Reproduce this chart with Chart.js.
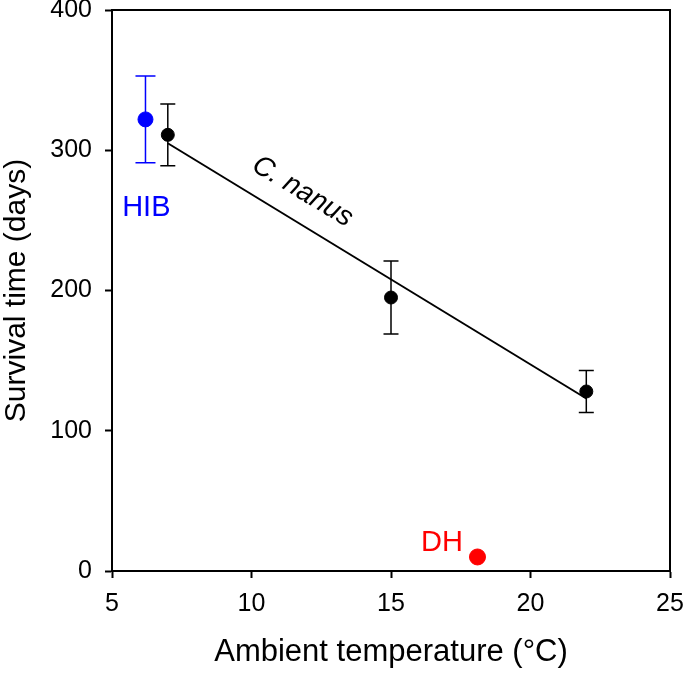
<!DOCTYPE html>
<html>
<head>
<meta charset="utf-8">
<script src="https://cdn.jsdelivr.net/npm/chart.js@4.4.1/dist/chart.umd.min.js"></script>
<style>
    html, body { margin: 0; padding: 0; background: #fff; }
    #wrap { width: 685px; height: 676px; position: relative; }
</style>
</head>
<body>
<div id="wrap"><canvas id="myChart"></canvas></div>
<script>
// C. nanus survival time at three ambient temperatures (mean +/- error)
const nanusTemp = [7, 15, 22];
const nanusDays = [311, 195, 128];
const nanusErrUp = [22, 26, 15];
const nanusErrDown = [22, 26, 15];

// hibernation (HIB) and daily heterothermy (DH)
const hibTemp = [6.2];
const hibDays = [322];
const hibErr = [31];
const dhTemp = [18.1];
const dhDays = [10];

// end points of the fitted line for C. nanus
const fitTemp = [7, 22];
const fitDays = [305, 123];

// axis ticks
const xTicks = [5, 10, 15, 20, 25];
const yTicks = [0, 100, 200, 300, 400];

const FONT = '"Liberation Sans", Arial, sans-serif';

const toPoints = (xs, ys) => xs.map((v, i) => ({x: v, y: ys[i]}));

// text labels placed in data units
const notes = [
    {text: 'HIB', x: 6.23, y: 259, color: '#0000ff', font: '29px ' + FONT, angle: 0},
    {text: 'DH', x: 16.83, y: 20, color: '#ff0000', font: '29px ' + FONT, angle: 0},
    {text: 'C. nanus', x: 11.83, y: 270.5, color: '#000000', font: 'italic 28px ' + FONT, angle: 31}
];

// drop the extra room chart.js keeps for overhanging tick labels
function fixSize(s, w, h) {
    if (w) s.width = w;
    if (h) s.height = h;
    s.paddingTop = 0;
    s.paddingBottom = 0;
    s.paddingLeft = 0;
    s.paddingRight = 0;
}

// vertical error bars with caps, drawn under the points
const errorBars = {
    id: 'errorBars',
    beforeDatasetsDraw(chart) {
        const {ctx, scales: {x, y}} = chart;
        ctx.save();
        chart.data.datasets.forEach(ds => {
            if (!ds.errUp) return;
            ctx.strokeStyle = ds.errColor;
            ctx.lineWidth = 1.5;
            ds.data.forEach((p, i) => {
                const px = x.getPixelForValue(p.x);
                const top = y.getPixelForValue(p.y + ds.errUp[i]);
                const bot = y.getPixelForValue(p.y - ds.errDown[i]);
                ctx.beginPath();
                ctx.moveTo(px, top);
                ctx.lineTo(px, bot);
                ctx.moveTo(px - ds.capHalf, top);
                ctx.lineTo(px + ds.capHalf, top);
                ctx.moveTo(px - ds.capHalf, bot);
                ctx.lineTo(px + ds.capHalf, bot);
                ctx.stroke();
            });
        });
        ctx.restore();
    }
};

// closed frame round the plot and the text labels
const frameAndNotes = {
    id: 'frameAndNotes',
    afterDatasetsDraw(chart) {
        const {ctx, chartArea: a, scales: {x, y}} = chart;
        ctx.save();
        ctx.strokeStyle = '#000';
        ctx.lineWidth = 2;
        ctx.strokeRect(a.left, a.top, a.right - a.left, a.bottom - a.top);

        notes.forEach(n => {
            ctx.save();
            ctx.translate(x.getPixelForValue(n.x), y.getPixelForValue(n.y));
            ctx.rotate(n.angle * Math.PI / 180);
            ctx.font = n.font;
            ctx.fillStyle = n.color;
            ctx.textAlign = 'center';
            ctx.textBaseline = 'middle';
            ctx.fillText(n.text, 0, 0);
            ctx.restore();
        });
        ctx.restore();
    }
};

new Chart(document.getElementById('myChart'), {
    type: 'scatter',
    data: {
        datasets: [{
            label: 'DH',
            data: toPoints(dhTemp, dhDays),
            backgroundColor: '#ff0000',
            borderColor: '#ff0000',
            pointRadius: 8,
            order: 0
        }, {
            label: 'HIB',
            data: toPoints(hibTemp, hibDays),
            backgroundColor: '#0000ff',
            borderColor: '#0000ff',
            pointRadius: 7.5,
            errUp: hibErr,
            errDown: hibErr,
            errColor: '#0000ff',
            capHalf: 10,
            order: 1
        }, {
            label: 'C. nanus',
            data: toPoints(nanusTemp, nanusDays),
            backgroundColor: '#000000',
            borderColor: '#000000',
            pointRadius: 6.5,
            errUp: nanusErrUp,
            errDown: nanusErrDown,
            errColor: '#000000',
            capHalf: 7.5,
            order: 2
        }, {
            type: 'line',
            label: 'fit',
            data: toPoints(fitTemp, fitDays),
            borderColor: '#000000',
            borderWidth: 2,
            pointRadius: 0,
            fill: false,
            order: 3
        }]
    },
    options: {
        responsive: true,
        maintainAspectRatio: false,
        animation: false,
        layout: {padding: {top: 10, right: 15, left: 0, bottom: 0}},
        plugins: {
            legend: {display: false},
            tooltip: {enabled: false}
        },
        scales: {
            x: {
                type: 'linear',
                min: 5,
                max: 25,
                afterBuildTicks: s => { s.ticks = xTicks.map(v => ({value: v})); },
                afterFit: s => fixSize(s, 0, 105),
                grid: {drawOnChartArea: false, tickLength: 7, tickWidth: 2, tickColor: '#000'},
                border: {color: '#000', width: 2},
                ticks: {color: '#000', font: {family: FONT, size: 25}, padding: 11, maxRotation: 0},
                title: {
                    display: true,
                    text: 'Ambient temperature (°C)',
                    color: '#000',
                    font: {family: FONT, size: 31},
                    padding: 5
                }
            },
            y: {
                min: 0,
                max: 400,
                afterBuildTicks: s => { s.ticks = yTicks.map(v => ({value: v})); },
                afterFit: s => fixSize(s, 112, 0),
                grid: {drawOnChartArea: false, tickLength: 7, tickWidth: 2, tickColor: '#000'},
                border: {color: '#000', width: 2},
                ticks: {color: '#000', font: {family: FONT, size: 25}, padding: 13},
                title: {
                    display: true,
                    text: 'Survival time (days)',
                    color: '#000',
                    font: {family: FONT, size: 30, lineHeight: 1.1},
                    padding: 0
                }
            }
        }
    },
    plugins: [errorBars, frameAndNotes]
});
</script>
</body>
</html>
